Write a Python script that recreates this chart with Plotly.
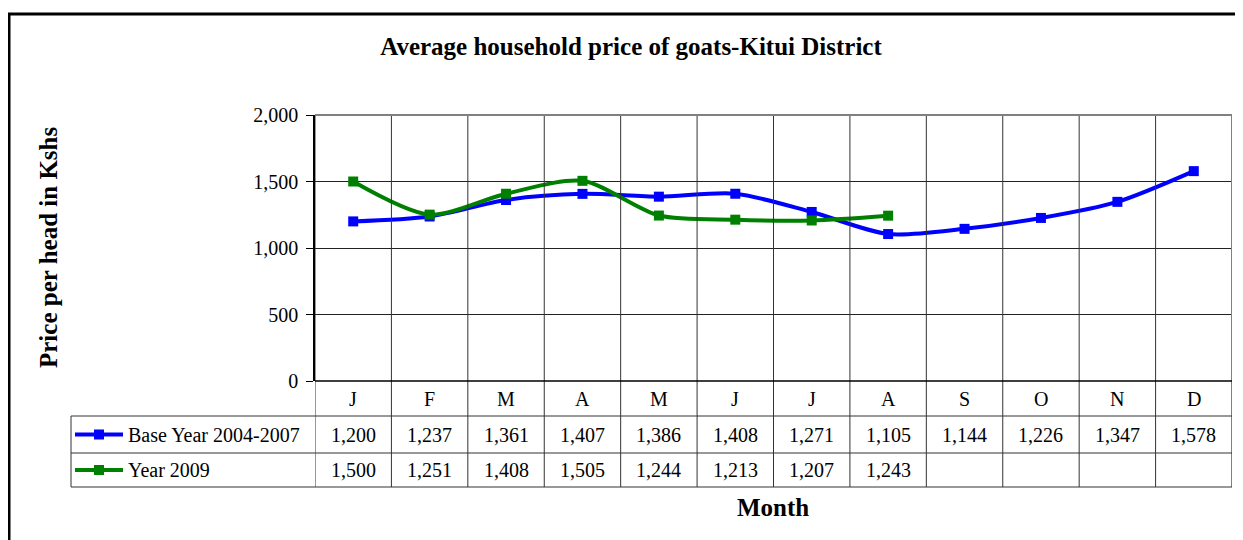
import plotly.graph_objects as go

months = ["J", "F", "M", "A", "M", "J", "J", "A", "S", "O", "N", "D"]
base_year = [1200, 1237, 1361, 1407, 1386, 1408, 1271, 1105, 1144, 1226, 1347, 1578]
year_2009 = [1500, 1251, 1408, 1505, 1244, 1213, 1207, 1243]
series_names = ["Base Year 2004-2007", "Year 2009"]
series_colors = ["#0000FF", "#008000"]
y_ticks = [0, 500, 1000, 1500, 2000]

FONT = "Liberation Serif"
# page body has an 8px margin, so the figure starts at (8, 8)
OFF = 8
W, H = 1243 - OFF, 540 - OFF
L, R, T, B = 315 - OFF, 11, 115 - OFF, 159
PH = H - T - B
PW = W - L - R


def py(pix):
    # window pixel row -> paper y
    return (H - B - (pix - OFF)) / PH


def px(pix):
    return (pix - OFF - L) / PW


xs = list(range(len(months)))
fig = go.Figure()

for name, vals, color in zip(series_names, [base_year, year_2009], series_colors):
    fig.add_trace(
        go.Scatter(
            x=xs[: len(vals)],
            y=vals,
            mode="lines+markers",
            name=name,
            line=dict(color=color, width=4, shape="spline", smoothing=0.8),
            marker=dict(symbol="square", size=10, color=color),
            showlegend=False,
        )
    )

shapes = []
grid = dict(color="#333333", width=1)
# vertical category lines through plot and table
for i in range(len(months) + 1):
    x = i - 0.5
    last = i == len(months)
    shapes.append(dict(type="line", xref="x", yref="paper", x0=x, x1=x, y0=py(487), y1=1,
                       line=dict(color="#808080" if last else "#333333", width=2 if last else 1)))
# horizontal table rows
for yy in [416, 453, 487]:
    shapes.append(dict(type="line", xref="paper", yref="paper", x0=px(71), x1=1, y0=py(yy), y1=py(yy), line=grid))
shapes.append(dict(type="line", xref="paper", yref="paper", x0=px(71), x1=px(71), y0=py(416), y1=py(487), line=grid))
# plot top border
shapes.append(dict(type="line", xref="paper", yref="paper", x0=0, x1=1, y0=1, y1=1,
                   line=dict(color="#808080", width=2)))
# x axis line at zero
shapes.append(dict(type="line", xref="paper", yref="paper", x0=0, x1=1, y0=0, y1=0,
                   line=dict(color="black", width=1.5)))
# outer chart border
shapes.append(dict(type="rect", xref="paper", yref="paper", x0=px(9), x1=1.05, y0=py(14), y1=-1.0,
                   line=dict(color="black", width=3)))
# legend keys in the table
for yy, color in zip([434.5, 470], series_colors):
    shapes.append(dict(type="line", xref="paper", yref="paper", x0=px(75), x1=px(123), y0=py(yy), y1=py(yy),
                       line=dict(color=color, width=4)))
    shapes.append(dict(type="rect", xref="paper", yref="paper", x0=px(94), x1=px(104), y0=py(yy - 5), y1=py(yy + 5),
                       line=dict(color=color, width=0), fillcolor=color))

annotations = []
tf = dict(family=FONT, size=20, color="black")
for i, m in enumerate(months):
    annotations.append(dict(x=i, y=py(398.5), xref="x", yref="paper", text=m, showarrow=False, font=tf,
                            xanchor="center", yanchor="middle"))
for row_y, vals in zip([434.5, 470], [base_year, year_2009]):
    for i, v in enumerate(vals):
        annotations.append(dict(x=i, y=py(row_y), xref="x", yref="paper", text=f"{v:,}", showarrow=False, font=tf,
                                xanchor="center", yanchor="middle"))
for row_y, name in zip([434.5, 470], series_names):
    annotations.append(dict(x=px(126), y=py(row_y), xref="paper", yref="paper", text=name, showarrow=False,
                            xanchor="left", yanchor="middle", font=tf))
annotations.append(dict(x=px(773), y=py(507), xref="paper", yref="paper", text="<b>Month</b>", showarrow=False,
                        xanchor="center", yanchor="middle", font=dict(family=FONT, size=25, color="black")))
annotations.append(dict(x=px(48), y=py(248), xref="paper", yref="paper", text="<b>Price per head in Kshs</b>",
                        showarrow=False, textangle=-90, xanchor="center", yanchor="middle",
                        font=dict(family=FONT, size=25, color="black")))

fig.update_layout(
    width=W,
    height=H,
    margin=dict(l=L, r=R, t=T, b=B),
    paper_bgcolor="white",
    plot_bgcolor="white",
    title=dict(text="<b>Average household price of goats-Kitui District</b>", x=(631 - OFF) / W, xanchor="center",
               y=1 - (46 - OFF) / H, yanchor="middle", font=dict(family=FONT, size=25, color="black")),
    xaxis=dict(range=[-0.5, len(months) - 0.5], showticklabels=False, showgrid=False, zeroline=False,
               showline=False, fixedrange=True),
    yaxis=dict(range=[0, 2000], tickvals=y_ticks, tickformat=",", showgrid=True, gridcolor="#222222",
               gridwidth=1, zeroline=False, showline=True, linecolor="black", linewidth=1.5,
               ticks="outside", ticklen=7, tickcolor="black", ticklabelstandoff=4,
               tickfont=dict(family=FONT, size=20, color="black"), fixedrange=True),
    shapes=shapes,
    annotations=annotations,
)

fig.write_html("out.html")
